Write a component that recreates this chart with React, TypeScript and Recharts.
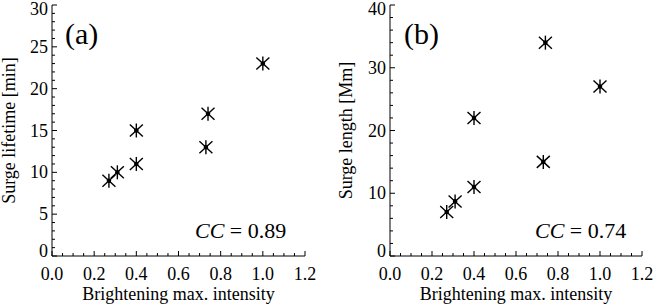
import React from 'react';
import { ScatterChart, Scatter, XAxis, YAxis } from 'recharts';

// ---- data ----
const intensityA = [0.27, 0.31, 0.4, 0.4, 0.73, 0.74, 1.0];
const lifetimeA = [9, 10, 11, 15, 13, 17, 23];
const intensityB = [0.27, 0.31, 0.4, 0.4, 0.73, 0.74, 1.0];
const lengthB = [7, 8.7, 11, 22, 15, 34, 27];

const xMajorTicks = [0, 0.2, 0.4, 0.6, 0.8, 1.0, 1.2];
const xMinorPerMajor = 4;
const yMajorTicksA = [0, 5, 10, 15, 20, 25, 30];
const yMinorPerMajorA = 5;
const yMajorTicksB = [0, 10, 20, 30, 40];
const yMinorPerMajorB = 5;

const ccA = '0.89';
const ccB = '0.74';

function withMinor(majors: number[], sub: number): number[] {
  const out: number[] = [];
  for (let i = 0; i < majors.length - 1; i++) {
    const a = majors[i];
    const b = majors[i + 1];
    for (let k = 0; k < sub; k++) out.push(+(a + ((b - a) * k) / sub).toFixed(6));
  }
  out.push(majors[majors.length - 1]);
  return out;
}

const FONT = "'Liberation Serif', 'DejaVu Serif', serif";
const FS = 18;
const MAJ = 5;
const MIN = 3;
const txt = (size: number, extra: any = {}) => ({ fontFamily: FONT, fontSize: size, fill: '#000', ...extra });

function isMajor(v: number, majors: number[]) {
  return majors.some((m) => Math.abs(m - v) < 1e-6);
}

const Asterisk = (props: any) => {
  const { cx, cy } = props;
  if (cx == null || cy == null) return <g />;
  return (
    <g stroke="#000" strokeWidth={1.4}>
      <line x1={cx} y1={cy - 7} x2={cx} y2={cy + 7} />
      <line x1={cx - 6.5} y1={cy - 6} x2={cx + 6.5} y2={cy + 6} />
      <line x1={cx - 6.5} y1={cy + 6} x2={cx + 6.5} y2={cy - 6} />
      <circle cx={cx} cy={cy} r={1.6} fill="#000" />
    </g>
  );
};

type PanelProps = {
  xs: number[];
  ys: number[];
  yMajors: number[];
  yMinorSub: number;
  yTitle: string;
  tag: string;
  cc: string;
  leftW: number;
  rightM: number;
  tagX: number;
  ccX: number;
  yTitleX: number;
};

const Panel = (p: PanelProps) => {
  const W = 327;
  const H = 306;
  const top = 5;
  const xH = 50;
  const data = p.xs.map((x, i) => ({ x, y: p.ys[i] }));
  const xTicks = withMinor(xMajorTicks, xMinorPerMajor);
  const yTicks = withMinor(p.yMajors, p.yMinorSub);
  const yMax = p.yMajors[p.yMajors.length - 1];
  const plotL = p.leftW;
  const plotR = W - p.rightM;
  const plotT = top;
  const plotB = H - xH;

  const bottomTick = (t: any) => {
    const v = t.payload.value;
    const maj = isMajor(v, xMajorTicks);
    return (
      <g>
        <line x1={t.x} x2={t.x} y1={t.y} y2={t.y - (maj ? MAJ : MIN)} stroke="#000" />
        {maj && (
          <text x={t.x} y={t.y + 24} textAnchor="middle" style={txt(FS)}>
            {v.toFixed(1)}
          </text>
        )}
      </g>
    );
  };
  const topTick = (t: any) => {
    const v = t.payload.value;
    const maj = isMajor(v, xMajorTicks);
    return <line x1={t.x} x2={t.x} y1={t.y} y2={t.y + (maj ? MAJ : MIN)} stroke="#000" />;
  };
  const leftTick = (t: any) => {
    const v = t.payload.value;
    const maj = isMajor(v, p.yMajors);
    let dy = 6;
    if (v === 0) dy = 1;
    if (v === yMax) dy = 10;
    return (
      <g>
        <line x1={t.x} x2={t.x + (maj ? MAJ : MIN)} y1={t.y} y2={t.y} stroke="#000" />
        {maj && (
          <text x={t.x - 4} y={t.y + dy} textAnchor="end" style={txt(FS)}>
            {String(v)}
          </text>
        )}
      </g>
    );
  };
  const rightTick = (t: any) => {
    const v = t.payload.value;
    const maj = isMajor(v, p.yMajors);
    return <line x1={t.x} x2={t.x - (maj ? MAJ : MIN)} y1={t.y} y2={t.y} stroke="#000" />;
  };

  const axisLine = { stroke: '#000', strokeWidth: 1 };
  const midY = (plotT + plotB) / 2;
  const midX = (plotL + plotR) / 2;

  return (
    <div style={{ position: 'relative', width: W, height: H }}>
      <ScatterChart width={W} height={H} margin={{ top, right: p.rightM, bottom: 0, left: 0 }}>
        <XAxis
          xAxisId="b"
          dataKey="x"
          type="number"
          domain={[0, 1.2]}
          ticks={xTicks}
          interval={0}
          tickSize={0}
          tickMargin={0}
          height={xH}
          axisLine={axisLine}
          tickLine={false}
          tick={bottomTick}
        />
        <XAxis
          xAxisId="t"
          orientation="top"
          type="number"
          domain={[0, 1.2]}
          ticks={xTicks}
          interval={0}
          tickSize={0}
          tickMargin={0}
          height={0}
          axisLine={axisLine}
          tickLine={false}
          tick={topTick}
        />
        <YAxis
          yAxisId="l"
          dataKey="y"
          type="number"
          domain={[0, yMax]}
          ticks={yTicks}
          interval={0}
          tickSize={0}
          tickMargin={0}
          width={p.leftW}
          axisLine={axisLine}
          tickLine={false}
          tick={leftTick}
        />
        <YAxis
          yAxisId="r"
          orientation="right"
          type="number"
          domain={[0, yMax]}
          ticks={yTicks}
          interval={0}
          tickSize={0}
          tickMargin={0}
          width={0}
          axisLine={axisLine}
          tickLine={false}
          tick={rightTick}
        />
        <Scatter data={data} xAxisId="b" yAxisId="l" shape={Asterisk} isAnimationActive={false} />
      </ScatterChart>
      <svg
        width={W}
        height={H}
        style={{ position: 'absolute', left: 0, top: 0, pointerEvents: 'none' }}
      >
        <text x={p.tagX} y={44} style={txt(30)}>
          {p.tag}
        </text>
        <text x={p.ccX} y={238} style={txt(22)}>
          <tspan style={{ fontStyle: 'italic' }}>CC</tspan>
          <tspan> = {p.cc}</tspan>
        </text>
        <text x={midX} y={300} textAnchor="middle" style={txt(FS)}>
          Brightening max. intensity
        </text>
        <text
          x={p.yTitleX}
          y={midY}
          textAnchor="middle"
          style={txt(FS)}
          transform={`rotate(-90 ${p.yTitleX} ${midY})`}
        >
          {p.yTitle}
        </text>
      </svg>
    </div>
  );
};

export default function App() {
  return (
    <div style={{ position: 'absolute', left: 0, top: 0, width: 654, height: 306, display: 'flex', background: '#fff' }}>
      <Panel
        xs={intensityA}
        ys={lifetimeA}
        yMajors={yMajorTicksA}
        yMinorSub={yMinorPerMajorA}
        yTitle="Surge lifetime [min]"
        tag="(a)"
        cc={ccA}
        leftW={52}
        rightM={22}
        tagX={65}
        ccX={195}
        yTitleX={15}
      />
      <Panel
        xs={intensityB}
        ys={lengthB}
        yMajors={yMajorTicksB}
        yMinorSub={yMinorPerMajorB}
        yTitle="Surge length [Mm]"
        tag="(b)"
        cc={ccB}
        leftW={63}
        rightM={12}
        tagX={77}
        ccX={208}
        yTitleX={25}
      />
    </div>
  );
}
